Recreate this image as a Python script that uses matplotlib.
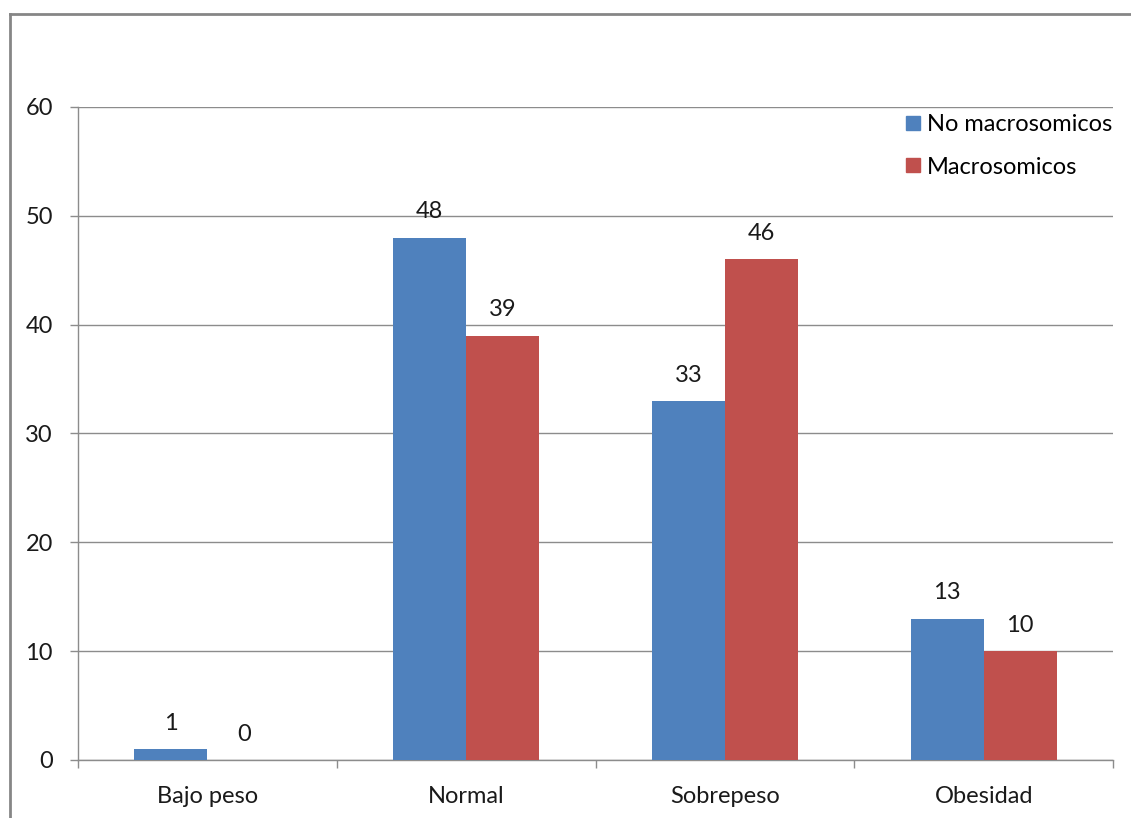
import numpy as np
import matplotlib.pyplot as plt
from matplotlib.lines import Line2D

categories = ['Bajo peso', 'Normal', 'Sobrepeso', 'Obesidad']
no_macro = [1, 48, 33, 13]
macro = [0, 39, 46, 10]
series_names = ['No macrosomicos', 'Macrosomicos']
yticks = [0, 10, 20, 30, 40, 50, 60]

BLUE = '#4F81BD'
RED = '#C0504D'
GRID = '#8c8c8c'

plt.rcParams['font.family'] = ['Lato', 'DejaVu Sans']
plt.rcParams['font.size'] = 17

W, H = 1131, 818
fig = plt.figure(figsize=(W / 100, H / 100), dpi=100)
ax = fig.add_axes([78 / W, (H - 760) / H, (1113 - 78) / W, (760 - 107) / H])

x = np.arange(len(categories))
bw = 0.282
b1 = ax.bar(x - bw / 2, no_macro, bw, color=BLUE, label=series_names[0], zorder=3)
b2 = ax.bar(x + bw / 2, macro, bw, color=RED, label=series_names[1], zorder=3)

for bars, vals in ((b1, no_macro), (b2, macro)):
    for rect, v in zip(bars, vals):
        ax.annotate(str(v), (rect.get_x() + rect.get_width() / 2, v),
                    xytext=(0, 11), textcoords='offset points',
                    ha='center', va='bottom', fontsize=17, color='#1a1a1a', zorder=4)

ax.set_xlim(-0.5, len(categories) - 0.5)
ax.set_ylim(0, 60)
ax.set_yticks(yticks)
ax.yaxis.grid(True, color=GRID, linewidth=1, zorder=0)
ax.set_axisbelow(True)

ax.set_xticks(x)
ax.set_xticklabels(categories)
ax.set_xticks(np.arange(-0.5, len(categories)), minor=True)
ax.tick_params(axis='x', which='major', length=0, pad=19)
ax.tick_params(axis='x', which='minor', length=6, color=GRID, width=1)
ax.tick_params(axis='y', length=6, color=GRID, width=1, pad=12)
ax.tick_params(labelcolor='#1a1a1a')

for side in ('top', 'right'):
    ax.spines[side].set_visible(False)
for side in ('left', 'bottom'):
    ax.spines[side].set_color(GRID)
    ax.spines[side].set_linewidth(1)

handles = [Line2D([], [], marker='s', linestyle='', markersize=10, color=c)
           for c in (BLUE, RED)]
ax.legend(handles, series_names, loc='upper left', bbox_to_anchor=(893 / W, 1 - 102 / H),
          bbox_transform=fig.transFigure, frameon=False, handlelength=0.7,
          handletextpad=0.25, labelspacing=0.92, borderpad=0, fontsize=17)

# outer chart frame
fig.add_artist(Line2D([9.5 / W, 1], [1 - 14 / H, 1 - 14 / H], color='#868686', linewidth=2))
fig.add_artist(Line2D([9.5 / W, 9.5 / W], [0, 1 - 14 / H], color='#868686', linewidth=2))

fig.savefig('out.png', dpi=100)
